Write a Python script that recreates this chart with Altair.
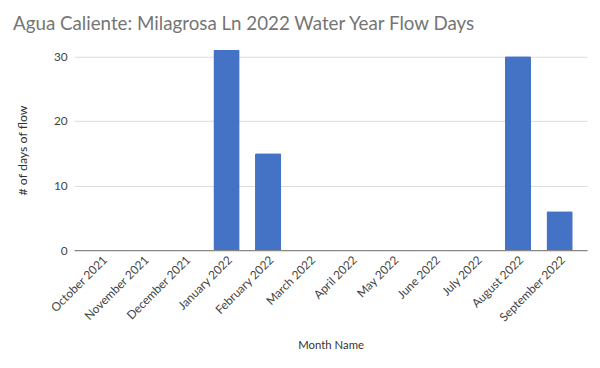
import altair as alt
import pandas as pd

months = ["October 2021", "November 2021", "December 2021", "January 2022",
          "February 2022", "March 2022", "April 2022", "May 2022", "June 2022",
          "July 2022", "August 2022", "September 2022"]
flow_days = [0, 0, 0, 31, 15, 0, 0, 0, 0, 0, 30, 6]
y_ticks = [0, 10, 20, 30]

df = pd.DataFrame({"Month Name": months, "days": flow_days})

FONT = "Lato"

chart = alt.Chart(df).mark_bar(color="#4472c4", cornerRadiusTopLeft=1.5, cornerRadiusTopRight=1.5).encode(
    x=alt.X("Month Name:N", sort=months,
            scale=alt.Scale(paddingInner=0.37, paddingOuter=0.345),
            axis=alt.Axis(labelAngle=-45, labelAlign="right", labelBaseline="top",
                          labelFontSize=12, labelColor="#444", ticks=False,
                          domainColor="#888", domainWidth=1.2,
                          titleFontSize=11.5, titleColor="#333", titleFontWeight="normal",
                          titlePadding=17, labelPadding=4)),
    y=alt.Y("days:Q", title="# of days of flow",
            scale=alt.Scale(domain=[0, 31], nice=False),
            axis=alt.Axis(values=y_ticks, ticks=False, domain=False,
                          gridColor="#dcdcdc", labelFontSize=12, labelColor="#444",
                          labelPadding=7, titleFontSize=12.5, titleColor="#333",
                          titleFontWeight="normal", titlePadding=24)),
).properties(
    width=520, height=203,
    title=alt.Title("Agua Caliente: Milagrosa Ln 2022 Water Year Flow Days",
                    anchor="start", frame="bounds", fontSize=19, color="#757575",
                    fontWeight="normal", offset=16, dx=-4),
).configure(font=FONT).configure_view(stroke=None)

chart.save("out.html", embed_options={"renderer": "svg", "actions": False})
